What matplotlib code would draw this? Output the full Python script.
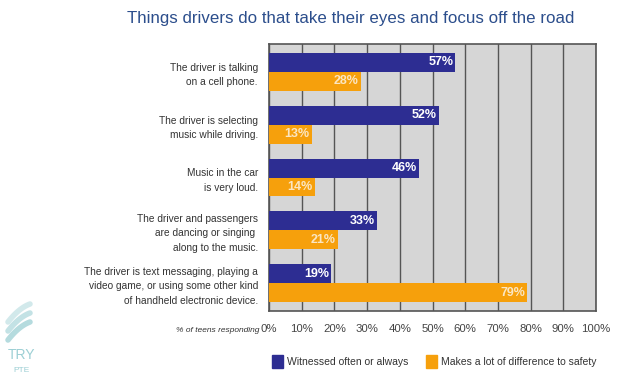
import matplotlib
matplotlib.use("Agg")
import matplotlib.pyplot as plt
from matplotlib.patches import Rectangle
import numpy as np

categories = [
    "The driver is talking\non a cell phone.",
    "The driver is selecting\nmusic while driving.",
    "Music in the car\nis very loud.",
    "The driver and passengers\nare dancing or singing \nalong to the music.",
    "The driver is text messaging, playing a\nvideo game, or using some other kind\nof handheld electronic device.",
]
witnessed = [57, 52, 46, 33, 19]
difference = [28, 13, 14, 21, 79]
series_names = ["Witnessed often or always", "Makes a lot of difference to safety"]
xticks = [0, 10, 20, 30, 40, 50, 60, 70, 80, 90, 100]
xtick_labels = [f"{v}%" for v in xticks]
title = "Things drivers do that take their eyes and focus off the road"

FONT = ["Liberation Sans Narrow", "Liberation Sans", "DejaVu Sans"]
plt.rcParams["font.family"] = FONT

BLUE = "#2d2d92"
ORANGE = "#f6a00c"
BG = "#d6d6d6"
GRID = "#555555"
TXT = "#333333"

fig = plt.figure(figsize=(6.41, 3.77), dpi=100)
W, H = 641, 377
ax = fig.add_axes([269 / W, 1 - 311 / H, 327 / W, 267 / H])
ax.set_facecolor(BG)

y = np.arange(len(categories))
bh = 0.36
ax.barh(y - bh / 2, witnessed, height=bh, color=BLUE, zorder=3)
ax.barh(y + bh / 2, difference, height=bh, color=ORANGE, zorder=3)

for yi, v in zip(y, witnessed):
    ax.text(v - 0.6, yi - bh / 2, f"{v}%", ha="right", va="center",
            color="white", fontsize=9, fontweight="bold", zorder=4)
for yi, v in zip(y, difference):
    ax.text(v - 0.6, yi + bh / 2, f"{v}%", ha="right", va="center",
            color="#fbe6c2", fontsize=9, fontweight="bold", zorder=4)

ax.set_xlim(0, 100)
ax.set_ylim(4.53, -0.53)
ax.set_xticks(xticks)
ax.set_xticklabels(xtick_labels, fontsize=8.2, color="#444444")
ax.set_yticks(y)
ax.set_yticklabels(categories, fontsize=7.3, color=TXT, linespacing=1.55)
ax.tick_params(axis="both", length=0)
ax.tick_params(axis="x", pad=9)
ax.tick_params(axis="y", pad=8)
ax.xaxis.grid(True, color=GRID, linewidth=1.0, zorder=1)
ax.set_axisbelow(True)
for s in ax.spines.values():
    s.set_color("#555555")
    s.set_linewidth(1.2)

fig.text(351 / W, 1 - 18 / H, title, ha="center", va="center",
         fontsize=12.2, color="#2c4e8c")

fig.text(259 / W, 1 - 331 / H, "% of teens responding", ha="right", va="center",
         fontsize=6, style="italic", color=TXT)

# legend
fig.patches.append(Rectangle((272 / W, 1 - 368 / H), 11 / W, 13 / H,
                             transform=fig.transFigure, color=BLUE))
fig.text(287 / W, 1 - 362 / H, series_names[0], ha="left", va="center",
         fontsize=7.5, color=TXT)
fig.patches.append(Rectangle((426 / W, 1 - 368 / H), 11 / W, 13 / H,
                             transform=fig.transFigure, color=ORANGE))
fig.text(441 / W, 1 - 362 / H, series_names[1], ha="left", va="center",
         fontsize=7.5, color=TXT)

# watermark
fig.text(22 / W, 1 - 355 / H, "TRY", ha="center", va="center",
         fontsize=10, color="#9ccfd4")
fig.text(22 / W, 1 - 370 / H, "PTE", ha="center", va="center",
         fontsize=6, color="#9ccfd4")
for dy, a in [(0, 0.45), (9, 0.6), (18, 0.75)]:
    t = np.linspace(0, 1, 30)
    xs = (8 + 22 * t) / W
    ys = 1 - (312 + dy + 10 * (1 - t) ** 2 - 8 * t) / H
    fig.lines.append(plt.Line2D(xs, ys, transform=fig.transFigure,
                                color="#9ccfd4", lw=4, alpha=a,
                                solid_capstyle="round"))

fig.savefig("out.png", dpi=100)
